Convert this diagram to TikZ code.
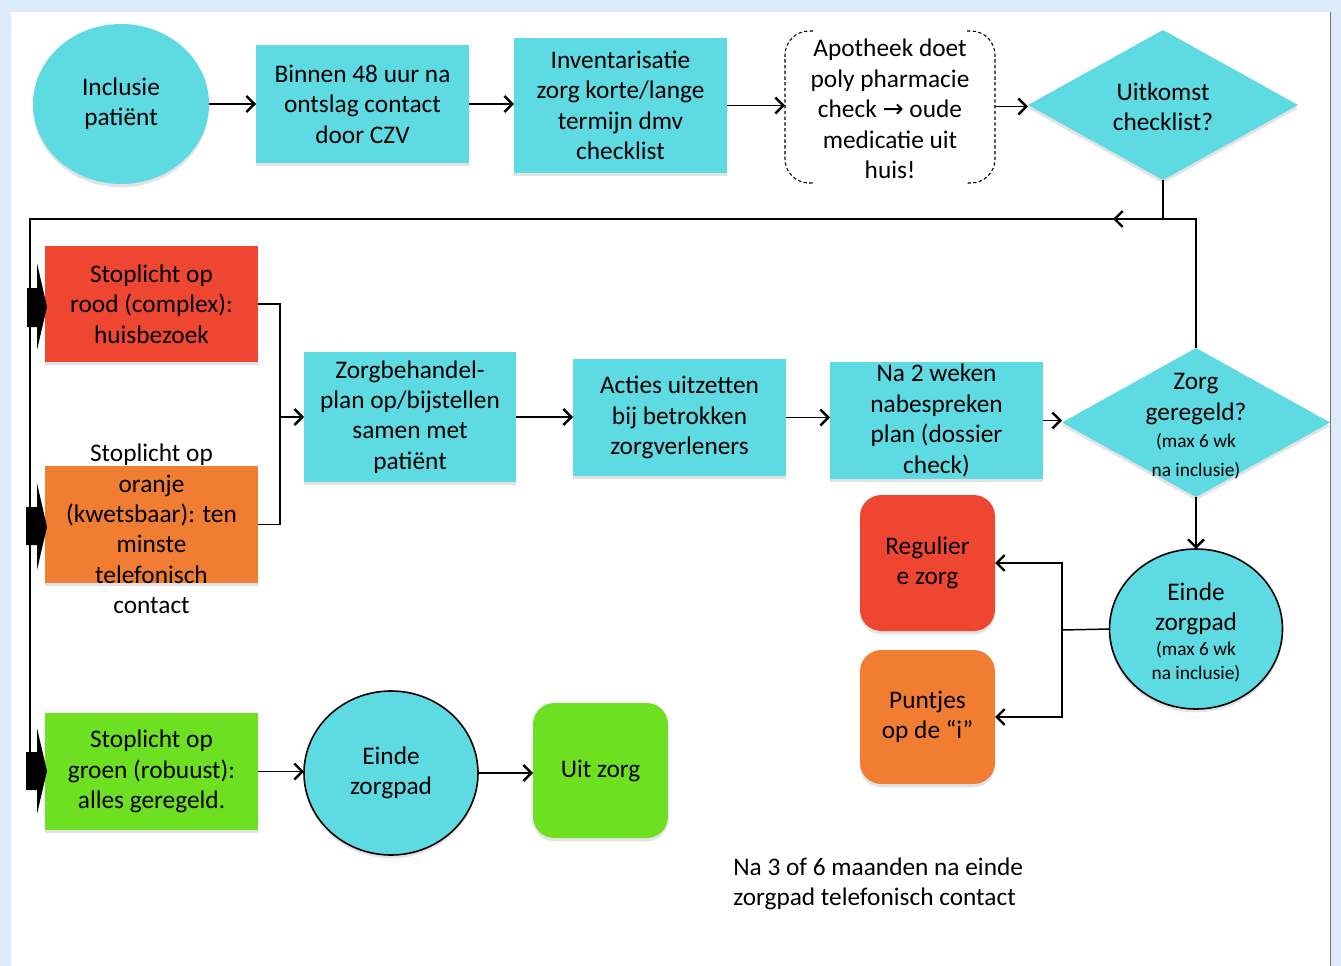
\documentclass[tikz,border=0pt]{standalone}
\usepackage{fontspec}
\setmainfont{Carlito}
\newfontfamily\symfont{DejaVu Sans}
\usetikzlibrary{shapes.geometric,arrows.meta,shadows}
\definecolor{cyanf}{RGB}{94,218,226}
\definecolor{redf}{RGB}{238,70,48}
\definecolor{orangef}{RGB}{240,125,50}
\definecolor{greenf}{RGB}{110,224,34}
\definecolor{framebg}{RGB}{219,235,250}
\begin{document}
\begin{tikzpicture}[x=0.75pt,y=-0.75pt,
  sz/.style 2 args={minimum width=#1*0.75pt, minimum height=#2*0.75pt, inner sep=0pt, outer sep=0pt},
  shad/.style={drop shadow={shadow xshift=0pt, shadow yshift=-2.5pt, opacity=0.22}},
  txt/.style={align=center, font=\fontsize{19}{22.8}\selectfont, inner sep=0pt},
  smalltxt/.style={align=center, font=\fontsize{14.5}{18}\selectfont, inner sep=0pt},
  rect/.style={rectangle, shad, txt},
  rbox/.style={rectangle, rounded corners=16pt, shad, txt},
  oval/.style={ellipse, shad, txt},
  ruit/.style={diamond, shad, fill=cyanf},
  conn/.style={line width=1.1pt, draw=black},
  arr/.style={conn, -{Straight Barb[length=6pt,width=12pt,line width=1.8pt]}},
  bracket/.style={draw=black, line width=0.8pt, dash pattern=on 2.5pt off 1.8pt, rounded corners=18pt}
]
\useasboundingbox (0,0) rectangle (1341,966);
\fill[framebg] (0,0) rectangle (1341,966);
\fill[white] (11,12) rectangle (1330,966);
\draw[black!55, line width=0.6pt] (1330,12) -- (1330,966);

% row 1
\node[oval, fill=cyanf, sz={176}{160}] (incl) at (121,104) {Inclusie\\patiënt};
\node[rect, fill=cyanf, sz={213}{118}] (binnen) at (362.5,104) {Binnen 48 uur na\\ontslag contact\\door CZV};
\node[rect, fill=cyanf, sz={213}{135}] (invent) at (620.5,105.5) {Inventarisatie\\zorg korte/lange\\termijn dmv\\checklist};
\node[sz={210}{153}] (apo) at (890,106.5) {};
\node[txt] (apoT) at (890,109) {Apotheek doet\\poly pharmacie\\check {\symfont\fontsize{19}{22.8}\selectfont →} oude\\medicatie uit\\huis!};
\draw[bracket] (813,31) -| (785,183) -- (813,183);
\draw[bracket] (967,31) -| (995,183) -- (967,183);
\node[ruit, sz={270}{150}] (uitk) at (1163,105) {};
\node[txt] (uitkT) at (1163,107) {Uitkomst\\checklist?};

\draw[arr] (incl.east) -- (binnen.west);
\draw[arr] (binnen.east) -- (binnen.east -| invent.west);
\draw[arr] (invent.east) -- (invent.east -| apo.west);
\draw[arr] (apo.east) -- (apo.east -| uitk.west);

% left column
\node[rect, fill=redf, sz={213}{116}] (rood) at (151.5,304) {Stoplicht op\\rood (complex):\\huisbezoek};
\node[rectangle, shad, fill=orangef, sz={213}{117}] (oranje) at (151.5,524.5) {};
\node[txt] (oranjeT) at (151.5,529) {Stoplicht op\\oranje\\(kwetsbaar): ten\\minste\\telefonisch\\contact};
\node[rect, fill=greenf, sz={213}{117}] (groen) at (151.5,771.5) {Stoplicht op\\groen (robuust):\\alles geregeld.};

% middle row
\node[rect, fill=cyanf, sz={212}{130}] (zbp) at (410,417) {Zorgbehandel-\\plan op/bijstellen\\samen met\\patiënt};
\node[rect, fill=cyanf, sz={213}{117}] (acties) at (679.5,417.5) {Acties uitzetten\\bij betrokken\\zorgverleners};
\node[rect, fill=cyanf, sz={213}{117}] (na2) at (936.5,420.5) {Na 2 weken\\nabespreken\\plan (dossier\\check)};
\node[ruit, sz={268}{149}] (zorg) at (1196,422.5) {};
\node[txt] (zorgT) at (1196,399) {Zorg\\geregeld?};
\node[smalltxt, font=\fontsize{14.5}{21.8}\selectfont] (zorgS) at (1196,456) {(max 6 wk\\na inclusie)};

% lower right
\node[ellipse, shad, draw=black, line width=1.2pt, fill=cyanf, sz={173}{160}] (einde2) at (1196,629) {};
\node[txt] (einde2T) at (1196,609) {Einde\\zorgpad};
\node[smalltxt] (einde2S) at (1196,662) {(max 6 wk\\na inclusie)};
\node[rbox, fill=redf, sz={135}{136}] (regulier) at (927.5,563) {Regulier\\e zorg};
\node[rbox, fill=orangef, sz={135}{134}] (puntjes) at (927.5,717) {Puntjes\\op de “i”};

% bottom row
\node[ellipse, shad, draw=black, line width=1.2pt, fill=cyanf, sz={174}{164}, txt] (einde1) at (391,773) {Einde\\zorgpad};
\node[rbox, fill=greenf, sz={135}{135}] (uitzorg) at (600.5,770.5) {Uit zorg};

\node[txt, align=left, anchor=west] (noot) at (733,884) {Na 3 of 6 maanden na einde\\zorgpad telefonisch contact};

% connectors
\coordinate (j1) at (1163,219);
\coordinate (j2) at (1196,219);
\coordinate (lt) at (30,219);
\coordinate (lb) at (30,790);
\draw[conn] (uitk.south) -- (j1);
\draw[conn] (zorg.north) -- (j2) -- (lt) -- (lb);
\draw[arr] (j1) -- ++(-50,0);

\coordinate (m1) at (280,417);
\draw[conn] (rood.east) -| (m1);
\draw[conn] (oranje.east) -| (m1);
\draw[arr] (m1) -- (zbp.west);
\draw[arr] (zbp.east) -- (zbp.east -| acties.west);
\draw[arr] (acties.east) -- (acties.east -| na2.west);
\draw[arr] (na2.east) -- (na2.east -| zorg.west);
\draw[arr] (zorg.south) -- (einde2.north);

\coordinate (m2) at (1062,630);
\draw[conn] (einde2.west) -- (m2);
\draw[arr] (m2) |- (regulier.east);
\draw[arr] (m2) |- (puntjes.east);

\draw[arr] (groen.east) -- (groen.east -| einde1.west);
\draw[arr] (einde1.east) -- (einde1.east -| uitzorg.west);

% block arrows
\fill[black] (27,288) -- (37,288) -- (37,263) -- (47,307) -- (37,350) -- (37,327) -- (27,327) -- cycle;
\fill[black] (26,507) -- (37,507) -- (37,483) -- (47,527) -- (37,570) -- (37,545) -- (26,545) -- cycle;
\fill[black] (26,752) -- (37,752) -- (37,728) -- (47,771) -- (37,814) -- (37,790) -- (26,790) -- cycle;
\end{tikzpicture}
\end{document}
